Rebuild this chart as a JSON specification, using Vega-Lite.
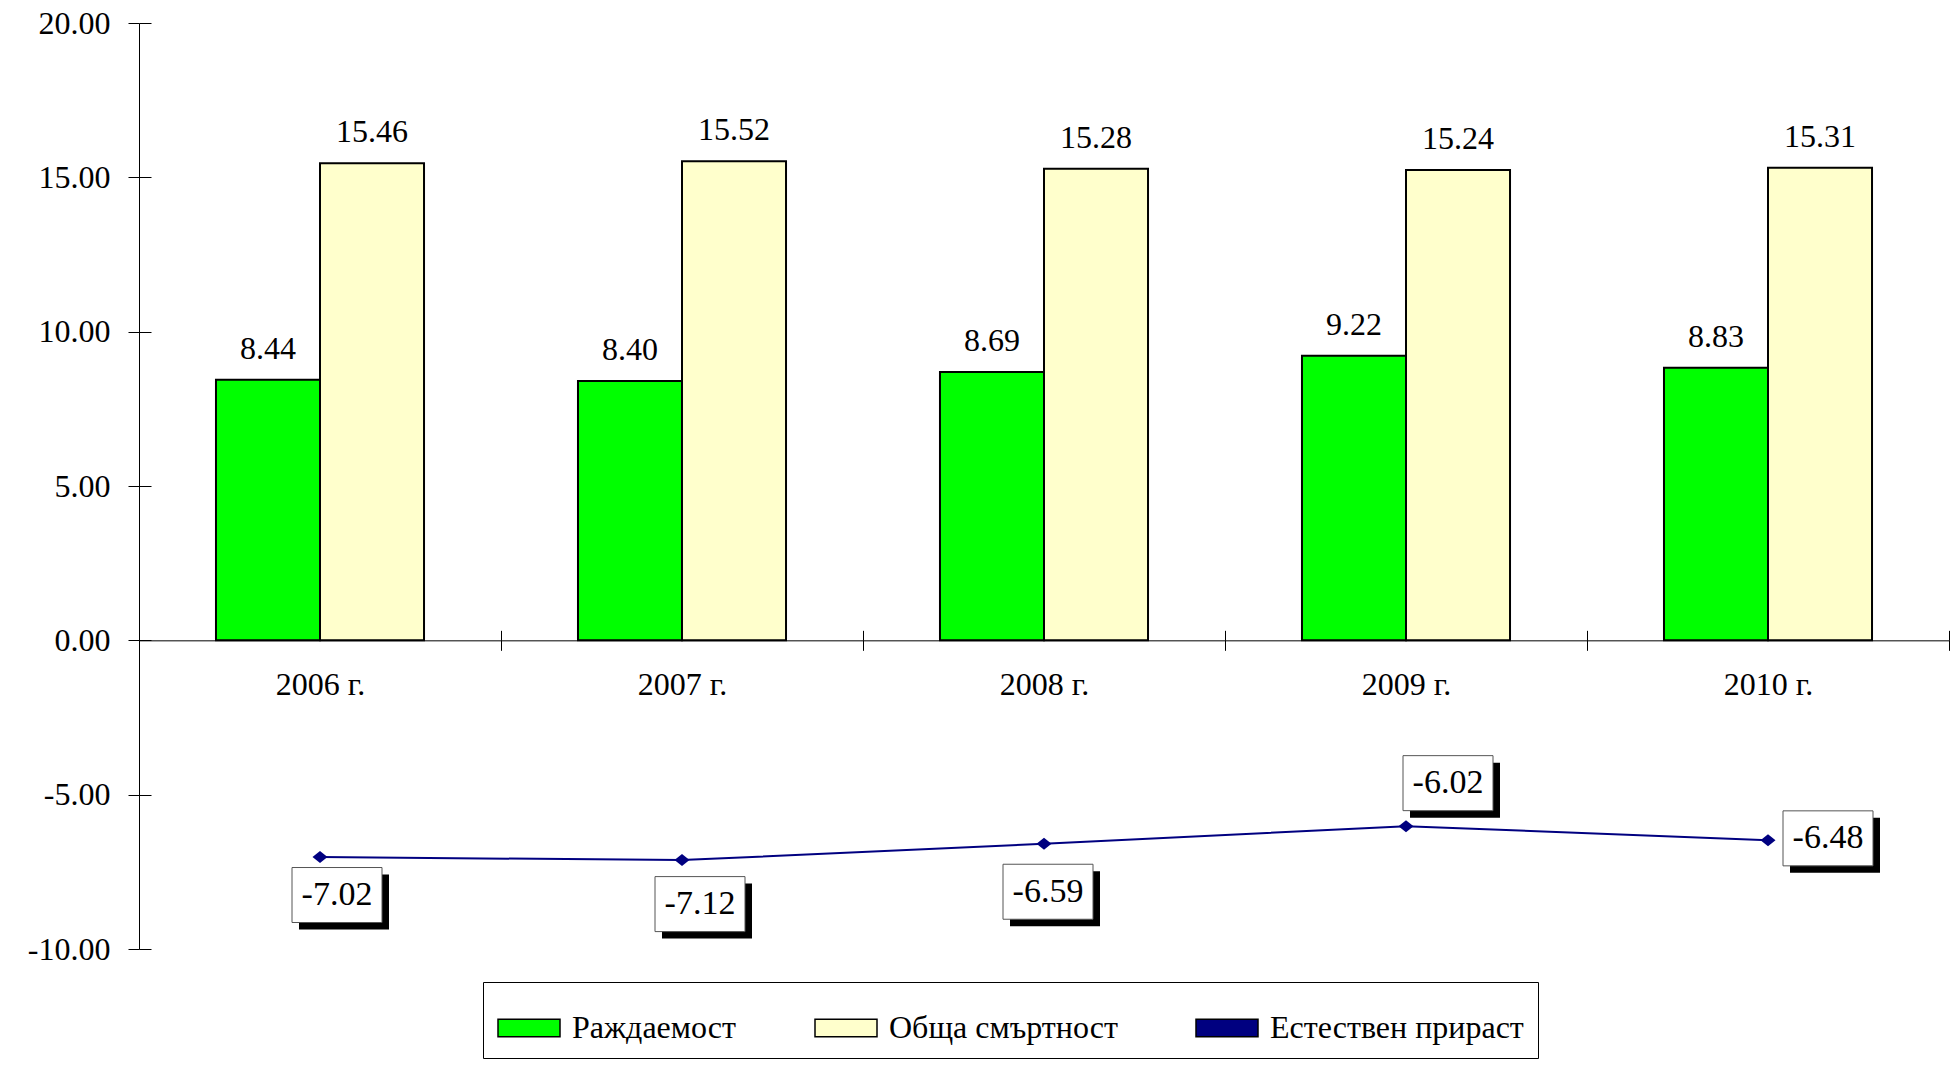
{
  "$schema": "https://vega.github.io/schema/vega-lite/v6.json",
  "width": 1810,
  "height": 926,
  "autosize": "none",
  "padding": {"left": 139, "top": 23, "right": 10, "bottom": 116},
  "config": {
    "view": {"stroke": null},
    "font": "Liberation Serif",
    "axis": {"labelFont": "Liberation Serif"},
    "legend": {"labelFont": "Liberation Serif"}
  },
  "datasets": {
    "rates": [
      {"year": "2006 г.", "series": "Раждаемост", "value": 8.44},
      {"year": "2006 г.", "series": "Обща смъртност", "value": 15.46},
      {"year": "2007 г.", "series": "Раждаемост", "value": 8.40},
      {"year": "2007 г.", "series": "Обща смъртност", "value": 15.52},
      {"year": "2008 г.", "series": "Раждаемост", "value": 8.69},
      {"year": "2008 г.", "series": "Обща смъртност", "value": 15.28},
      {"year": "2009 г.", "series": "Раждаемост", "value": 9.22},
      {"year": "2009 г.", "series": "Обща смъртност", "value": 15.24},
      {"year": "2010 г.", "series": "Раждаемост", "value": 8.83},
      {"year": "2010 г.", "series": "Обща смъртност", "value": 15.31}
    ],
    "growth": [
      {"year": "2006 г.", "series": "Естествен прираст", "value": -7.02},
      {"year": "2007 г.", "series": "Естествен прираст", "value": -7.12},
      {"year": "2008 г.", "series": "Естествен прираст", "value": -6.59},
      {"year": "2009 г.", "series": "Естествен прираст", "value": -6.02},
      {"year": "2010 г.", "series": "Естествен прираст", "value": -6.48}
    ]
  },
  "resolve": {"axis": {"x": "independent", "y": "independent"}},
  "layer": [
    {
      "data": {"name": "rates"},
      "mark": {"type": "bar", "stroke": "black", "strokeWidth": 2},
      "encoding": {
        "x": {
          "field": "year", "type": "nominal",
          "scale": {"paddingInner": 0, "paddingOuter": 0},
          "axis": {
            "orient": "bottom", "offset": -308.67, "tickBand": "extent", "title": null,
            "labelAngle": 0, "labelFontSize": 32, "labelColor": "black", "labelPadding": 19,
            "tickSize": 10, "tickColor": "black", "domainColor": "black", "grid": false
          }
        },
        "xOffset": {
          "field": "series", "sort": ["Раждаемост", "Обща смъртност"],
          "scale": {"paddingOuter": 0.74, "paddingInner": 0}
        },
        "y": {
          "field": "value", "type": "quantitative",
          "scale": {"domain": [-10, 20], "nice": false},
          "axis": {
            "orient": "left", "values": [-10, -5, 0, 5, 10, 15, 20], "format": ".2f",
            "labelExpr": "replace(datum.label, '−', '-')",
            "title": null, "grid": false, "labelFontSize": 32, "labelColor": "black",
            "labelPadding": 18, "tickSize": 11, "tickColor": "black", "domainColor": "black"
          }
        },
        "color": {
          "field": "series", "type": "nominal",
          "scale": {
            "domain": ["Раждаемост", "Обща смъртност", "Естествен прираст"],
            "range": ["#00FF00", "#FFFFCC", "#000080"]
          },
          "legend": {
            "orient": "none", "legendX": 344, "legendY": 959, "direction": "horizontal",
            "title": null, "strokeColor": "black", "fillColor": "white", "padding": 14,
            "labelFontSize": 32, "labelColor": "black", "labelOffset": 11, "labelLimit": 0,
            "symbolSize": 3844, "symbolStrokeWidth": 1.5, "columnPadding": 75,
            "symbolType": "M-1,-0.28L1,-0.28L1,0.28L-1,0.28Z",
            "encode": {
              "symbols": {
                "shape": {"value": {"expr": "datum.value === 'Естествен прираст' ? 'M-1,0L1,0M-0.24,0L0,-0.19L0.24,0L0,0.19Z' : 'M-1,-0.28L1,-0.28L1,0.28L-1,0.28Z'"}},
                "stroke": {
                  "condition": {"test": "datum.value === 'Естествен прираст'", "value": "#000080"},
                  "value": "black"
                }
              }
            }
          }
        }
      }
    },
    {
      "data": {"name": "rates"},
      "mark": {"type": "text", "baseline": "alphabetic", "dy": -21, "fontSize": 32, "color": "black"},
      "encoding": {
        "x": {"field": "year", "type": "nominal", "axis": null},
        "xOffset": {"field": "series", "sort": ["Раждаемост", "Обща смъртност"]},
        "y": {"field": "value", "type": "quantitative", "axis": null},
        "text": {"field": "value", "type": "quantitative", "format": ".2f"}
      }
    },
    {
      "data": {"name": "growth"},
      "mark": {
        "type": "line", "strokeWidth": 2, "color": "#000080",
        "point": {"filled": true, "shape": "M-1,0L0,-0.8L1,0L0,0.8Z", "size": 225, "opacity": 1, "color": "#000080"}
      },
      "encoding": {
        "x": {
          "field": "year", "type": "nominal",
          "axis": {
            "orient": "top", "offset": -617.33, "tickBand": "extent", "labels": false,
            "domain": false, "grid": false, "title": null, "tickSize": 10, "tickColor": "black"
          }
        },
        "y": {
          "field": "value", "type": "quantitative",
          "axis": {
            "orient": "right", "offset": -1810, "values": [-10, -5, 0, 5, 10, 15, 20],
            "labels": false, "domain": false, "grid": false, "title": null,
            "tickSize": 12, "tickColor": "black"
          }
        }
      }
    },
    {"data": {"name": "growth"}, "transform": [{"filter": "datum.year === '2006 г.'"}],
      "mark": {"type": "point", "shape": "M-1,-0.611L1,-0.611L1,0.611L-1,0.611Z", "size": 8100, "filled": true, "fill": "black", "opacity": 1, "strokeWidth": 0, "xOffset": 24, "yOffset": 45},
      "encoding": {"x": {"field": "year", "type": "nominal", "axis": null}, "y": {"field": "value", "type": "quantitative", "axis": null}}},
    {"data": {"name": "growth"}, "transform": [{"filter": "datum.year === '2006 г.'"}],
      "mark": {"type": "point", "shape": "M-1,-0.611L1,-0.611L1,0.611L-1,0.611Z", "size": 8100, "filled": true, "fill": "white", "stroke": "#555555", "strokeWidth": 1, "opacity": 1, "xOffset": 17, "yOffset": 38},
      "encoding": {"x": {"field": "year", "type": "nominal", "axis": null}, "y": {"field": "value", "type": "quantitative", "axis": null}}},
    {"data": {"name": "growth"}, "transform": [{"filter": "datum.year === '2006 г.'"}],
      "mark": {"type": "text", "fontSize": 34, "color": "black", "baseline": "middle", "dx": 17, "dy": 38},
      "encoding": {"x": {"field": "year", "type": "nominal", "axis": null}, "y": {"field": "value", "type": "quantitative", "axis": null}, "text": {"field": "value", "type": "nominal"}}},

    {"data": {"name": "growth"}, "transform": [{"filter": "datum.year === '2007 г.'"}],
      "mark": {"type": "point", "shape": "M-1,-0.611L1,-0.611L1,0.611L-1,0.611Z", "size": 8100, "filled": true, "fill": "black", "opacity": 1, "strokeWidth": 0, "xOffset": 25, "yOffset": 51},
      "encoding": {"x": {"field": "year", "type": "nominal", "axis": null}, "y": {"field": "value", "type": "quantitative", "axis": null}}},
    {"data": {"name": "growth"}, "transform": [{"filter": "datum.year === '2007 г.'"}],
      "mark": {"type": "point", "shape": "M-1,-0.611L1,-0.611L1,0.611L-1,0.611Z", "size": 8100, "filled": true, "fill": "white", "stroke": "#555555", "strokeWidth": 1, "opacity": 1, "xOffset": 18, "yOffset": 44},
      "encoding": {"x": {"field": "year", "type": "nominal", "axis": null}, "y": {"field": "value", "type": "quantitative", "axis": null}}},
    {"data": {"name": "growth"}, "transform": [{"filter": "datum.year === '2007 г.'"}],
      "mark": {"type": "text", "fontSize": 34, "color": "black", "baseline": "middle", "dx": 18, "dy": 44},
      "encoding": {"x": {"field": "year", "type": "nominal", "axis": null}, "y": {"field": "value", "type": "quantitative", "axis": null}, "text": {"field": "value", "type": "nominal"}}},

    {"data": {"name": "growth"}, "transform": [{"filter": "datum.year === '2008 г.'"}],
      "mark": {"type": "point", "shape": "M-1,-0.611L1,-0.611L1,0.611L-1,0.611Z", "size": 8100, "filled": true, "fill": "black", "opacity": 1, "strokeWidth": 0, "xOffset": 11, "yOffset": 55},
      "encoding": {"x": {"field": "year", "type": "nominal", "axis": null}, "y": {"field": "value", "type": "quantitative", "axis": null}}},
    {"data": {"name": "growth"}, "transform": [{"filter": "datum.year === '2008 г.'"}],
      "mark": {"type": "point", "shape": "M-1,-0.611L1,-0.611L1,0.611L-1,0.611Z", "size": 8100, "filled": true, "fill": "white", "stroke": "#555555", "strokeWidth": 1, "opacity": 1, "xOffset": 4, "yOffset": 48},
      "encoding": {"x": {"field": "year", "type": "nominal", "axis": null}, "y": {"field": "value", "type": "quantitative", "axis": null}}},
    {"data": {"name": "growth"}, "transform": [{"filter": "datum.year === '2008 г.'"}],
      "mark": {"type": "text", "fontSize": 34, "color": "black", "baseline": "middle", "dx": 4, "dy": 48},
      "encoding": {"x": {"field": "year", "type": "nominal", "axis": null}, "y": {"field": "value", "type": "quantitative", "axis": null}, "text": {"field": "value", "type": "nominal"}}},

    {"data": {"name": "growth"}, "transform": [{"filter": "datum.year === '2009 г.'"}],
      "mark": {"type": "point", "shape": "M-1,-0.611L1,-0.611L1,0.611L-1,0.611Z", "size": 8100, "filled": true, "fill": "black", "opacity": 1, "strokeWidth": 0, "xOffset": 49, "yOffset": -36},
      "encoding": {"x": {"field": "year", "type": "nominal", "axis": null}, "y": {"field": "value", "type": "quantitative", "axis": null}}},
    {"data": {"name": "growth"}, "transform": [{"filter": "datum.year === '2009 г.'"}],
      "mark": {"type": "point", "shape": "M-1,-0.611L1,-0.611L1,0.611L-1,0.611Z", "size": 8100, "filled": true, "fill": "white", "stroke": "#555555", "strokeWidth": 1, "opacity": 1, "xOffset": 42, "yOffset": -43},
      "encoding": {"x": {"field": "year", "type": "nominal", "axis": null}, "y": {"field": "value", "type": "quantitative", "axis": null}}},
    {"data": {"name": "growth"}, "transform": [{"filter": "datum.year === '2009 г.'"}],
      "mark": {"type": "text", "fontSize": 34, "color": "black", "baseline": "middle", "dx": 42, "dy": -43},
      "encoding": {"x": {"field": "year", "type": "nominal", "axis": null}, "y": {"field": "value", "type": "quantitative", "axis": null}, "text": {"field": "value", "type": "nominal"}}},

    {"data": {"name": "growth"}, "transform": [{"filter": "datum.year === '2010 г.'"}],
      "mark": {"type": "point", "shape": "M-1,-0.611L1,-0.611L1,0.611L-1,0.611Z", "size": 8100, "filled": true, "fill": "black", "opacity": 1, "strokeWidth": 0, "xOffset": 67, "yOffset": 5},
      "encoding": {"x": {"field": "year", "type": "nominal", "axis": null}, "y": {"field": "value", "type": "quantitative", "axis": null}}},
    {"data": {"name": "growth"}, "transform": [{"filter": "datum.year === '2010 г.'"}],
      "mark": {"type": "point", "shape": "M-1,-0.611L1,-0.611L1,0.611L-1,0.611Z", "size": 8100, "filled": true, "fill": "white", "stroke": "#555555", "strokeWidth": 1, "opacity": 1, "xOffset": 60, "yOffset": -2},
      "encoding": {"x": {"field": "year", "type": "nominal", "axis": null}, "y": {"field": "value", "type": "quantitative", "axis": null}}},
    {"data": {"name": "growth"}, "transform": [{"filter": "datum.year === '2010 г.'"}],
      "mark": {"type": "text", "fontSize": 34, "color": "black", "baseline": "middle", "dx": 60, "dy": -2},
      "encoding": {"x": {"field": "year", "type": "nominal", "axis": null}, "y": {"field": "value", "type": "quantitative", "axis": null}, "text": {"field": "value", "type": "nominal"}}}
  ]
}
